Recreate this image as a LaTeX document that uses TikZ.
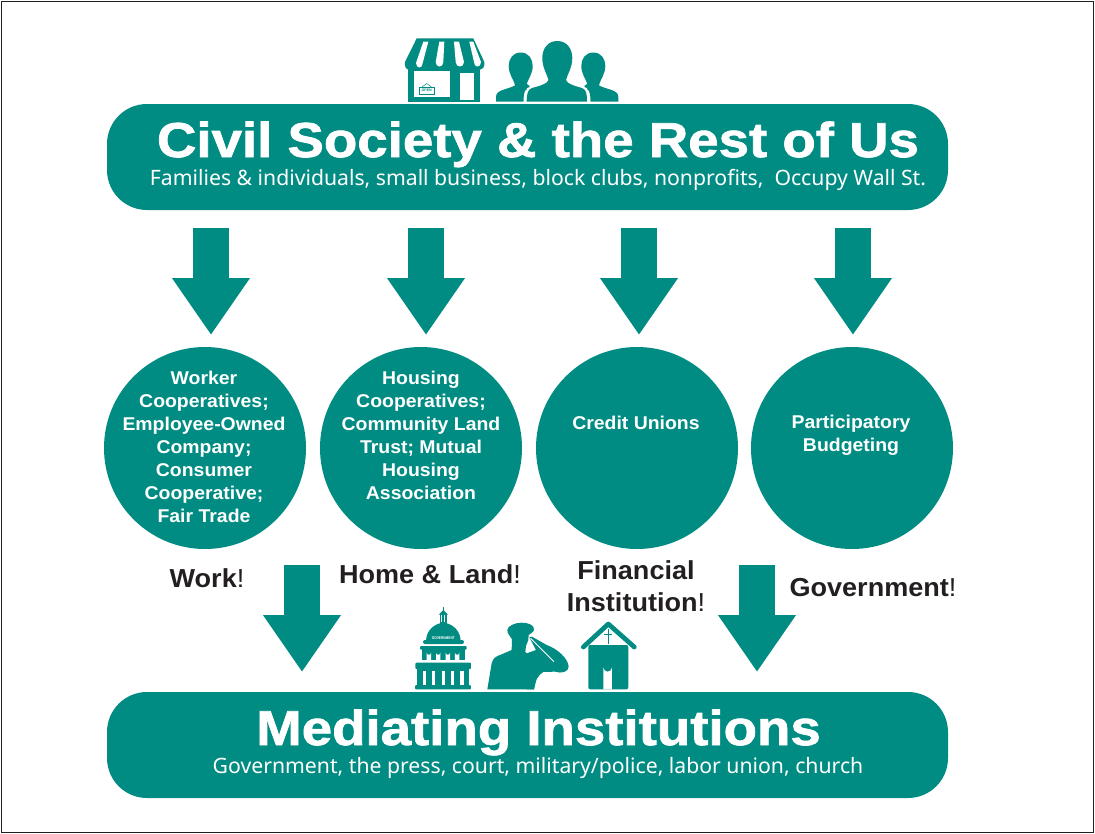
\documentclass[tikz,border=0pt]{standalone}
\usepackage{fontspec}
\usepackage{graphicx}
\setmainfont{Liberation Sans}
\newfontfamily\titlefont[FakeBold=1.5,FakeStretch=1.115]{Liberation Sans Bold}
\newfontfamily\bubfont[FakeStretch=1.05]{Liberation Sans Bold}
\newfontfamily\tagfont[FakeStretch=1.04]{Liberation Sans Bold}
\newfontfamily\tagreg[FakeStretch=1.04]{Liberation Sans}
\newfontfamily\subfont{Noto Sans}
\usetikzlibrary{arrows.meta}
\definecolor{teal1}{HTML}{008C82}
\definecolor{ink}{HTML}{231F20}
\tikzset{
  banner/.style={fill=teal1,rounded corners=40pt,minimum width=841pt,minimum height=106pt,inner sep=0pt},
  bubble/.style={circle,fill=teal1,minimum size=202pt,inner sep=0pt},
  bubbletext/.style={text=white,inner sep=0pt,font=\bubfont\fontsize{18.5}{23}\selectfont,align=center},
  blockarrow/.style={draw=teal1,line width=36pt,-{Triangle[width=74pt,length=57pt,fill=teal1]}},
  title/.style={text=white,inner sep=0pt,font=\titlefont\fontsize{49}{50}\selectfont},
  sub/.style={text=white,inner sep=0pt,font=\subfont\fontsize{21.2}{24}\selectfont},
  tag/.style={text=ink,inner sep=0pt,align=center,font=\tagfont\fontsize{26}{32}\selectfont},
  icon/.style={fill=teal1,draw=none},
  iconw/.style={fill=white,draw=none},
}
\begin{document}
\begin{tikzpicture}[x=1pt,y=-1pt]
\useasboundingbox (0,0) rectangle (1095,833);
\fill[white] (0,0) rectangle (1095,833);
\draw[ink,line width=1pt] (1.5,1.5) rectangle (1093.5,832);

% banners
\node[banner] (top) at (527.5,157) {};
\node[banner] (bot) at (527.5,745) {};
\node[title,anchor=base] (toptitle) at (538,157) {Civil Society \& the Rest of Us};
\node[sub,anchor=base] (topsub) at (538,185) {Families \& individuals, small business, block clubs, nonprofits,\ \ Occupy Wall St.};
\node[title,anchor=base] (bottitle) at (538.5,745) {Mediating Institutions};
\node[sub,anchor=base] (botsub) at (538,773) {Government, the press, court, military/police, labor union, church};

% circles
\node[bubble] (c1) at (205,448) {};
\node[bubble] (c2) at (421,448) {};
\node[bubble] (c3) at (637,448) {};
\node[bubble] (c4) at (852,448) {};
\node[bubbletext] (t1) at (204,447) {Worker\\Cooperatives;\\Employee-Owned\\Company;\\Consumer\\Cooperative;\\Fair Trade};
\node[bubbletext] (t2) at (421,435) {Housing\\Cooperatives;\\Community Land\\Trust; Mutual\\Housing\\Association};
\node[bubbletext] (t3) at (636,423) {Credit Unions};
\node[bubbletext] (t4) at (851,435) {Participatory\\Budgeting};

% down arrows
\coordinate (a1s) at (211,228); \coordinate (a1e) at (211,335);
\coordinate (a2s) at (426,228); \coordinate (a2e) at (426,335);
\coordinate (a3s) at (639,228); \coordinate (a3e) at (639,335);
\coordinate (a4s) at (853,228); \coordinate (a4e) at (853,335);
\coordinate (a5s) at (302,565); \coordinate (a5e) at (302,672);
\coordinate (a6s) at (757,565); \coordinate (a6e) at (757,672);
\foreach \k in {1,...,6} \draw[blockarrow] (a\k s) -- (a\k e);

% labels
\node[tag] (l1) at (207,578) {Work{\tagreg!}};
\node[tag] (l2) at (430,574) {Home \& Land{\tagreg!}};
\node[tag] (l3) at (636,586) {Financial\\Institution{\tagreg!}};
\node[tag] (l4) at (873,588) {Government{\tagreg!}};

% storefront
\fill[icon] (408.3,60) rectangle (480,101.7);
\fill[icon] (416.7,38.3) -- (473.3,38.3) -- (484.3,62)
  .. controls (485,66) and (483,69.5) .. (480,69.5) -- (408.3,69.5)
  .. controls (406,69.5) and (404.3,66) .. (405,62) -- cycle;
\fill[iconw] (414.3,70.7) rectangle (450,96.7);
\fill[iconw] (460,73.3) rectangle (474.3,100);
\foreach \ta/\tb/\ba/\bb/\by in {423.3/428.3/416/422.7/68,439.3/444.3/435.7/443.3/67,454/459/455.7/464/67,469.3/473.3/474/481/67}{
  \fill[iconw] (\ta,41.7) -- (\tb,41.7) -- (\bb,\by-5)
     .. controls (\bb,\by+1) and (\ba,\by+1) .. (\ba,\by-5) -- cycle;
}
\draw[teal1,line width=0.7pt,fill=white] (419,87) rectangle (434.5,94);
\draw[teal1,line width=0.5pt] (422,87) -- (426.7,83.5) -- (431.5,87);
\node[text=teal1,inner sep=0pt,font=\bfseries\fontsize{3.6}{4}\selectfont] (open) at (426.7,90.5) {OPEN};

% people
\foreach \cx in {520.7,593.3}{
  \fill[icon] (\cx,52.5) .. controls (\cx+8,52.5) and (\cx+12,59) .. (\cx+12,66)
    .. controls (\cx+12,74) and (\cx+7,80) .. (\cx+6,84) -- (\cx+6,90)
    -- (\cx-6,90) -- (\cx-6,84) .. controls (\cx-7,80) and (\cx-12,74) .. (\cx-12,66)
    .. controls (\cx-12,59) and (\cx-8,52.5) .. (\cx,52.5) -- cycle;
}
\fill[icon] (496,101.7) -- (496,97) .. controls (496,90) and (505,90) .. (514,86) -- (527,84)
  .. controls (530,86) and (531,87) .. (527,88) .. controls (524,91) and (523.5,96) .. (523.5,101.7) -- cycle;
\fill[icon] (618.3,101.7) -- (618.3,97) .. controls (618.3,90) and (609,90) .. (600,86) -- (587,84)
  .. controls (584,86) and (583,87) .. (587,88) .. controls (590,91) and (590.5,96) .. (590.5,101.7) -- cycle;
\fill[icon] (557.3,41) .. controls (567,41) and (572.3,49) .. (572.3,58)
  .. controls (572.3,68) and (567,75) .. (566,80) .. controls (567,84) and (575,86) .. (582,88)
  .. controls (586,89.5) and (587,93) .. (587,101.7) -- (526.7,101.7)
  .. controls (526.7,93) and (528,89.5) .. (532,88)
  .. controls (539,86) and (547.5,84) .. (548.5,80) .. controls (547.5,75) and (542.3,68) .. (542.3,58)
  .. controls (542.3,49) and (547.5,41) .. (557.3,41) -- cycle;

% capitol, soldier and church, in a local grid of third-pixels
\begin{scope}[shift={(400pt,-600pt)},x=0.3333pt,y=-0.3333pt]
  % capitol
  \fill[icon,rounded corners=1pt] (45,255) rectangle (213,268);
  \fill[icon,rounded corners=1pt] (46,188) rectangle (213,207);
  \fill[icon] (52,205) rectangle (207,256);
  \foreach \x in {68,96,125,153,181}{\fill[iconw] (\x,212) rectangle (\x+10,254);}
  \fill[icon,rounded corners=1pt] (60,138) rectangle (200,149);
  \fill[icon] (66,147) rectangle (194,180);
  \foreach \x in {80,108,137,165}{\fill[iconw] (\x,180) -- (\x,158) arc[start angle=180,end angle=0,radius=6.5] -- (\x+13,180) -- cycle;}
  \fill[icon] (78,124) .. controls (78,90) and (105,70) .. (130,68)
    .. controls (155,70) and (182,90) .. (182,124) -- cycle;
  \fill[icon,rounded corners=2pt] (69,120) rectangle (192,132);
  \fill[icon] (120,42) rectangle (140,70);
  \fill[icon] (116,44) -- (130,30) -- (144,44) -- cycle;
  \fill[icon] (128.5,20) rectangle (131.5,32);
  \fill[iconw] (124,46) rectangle (127,66);
  \fill[iconw] (133,46) rectangle (136,66);
  \node[text=white,inner sep=0pt,font=\bfseries\fontsize{4}{5}\selectfont] (gov) at (130,113) {\scalebox{0.8}[1]{GOVERNMENT}};
  % soldier
  \fill[icon] (262,268) -- (275,190) .. controls (278,175) and (290,168) .. (300,165)
    -- (335,150) -- (336,118) .. controls (330,108) and (322,100) .. (322,90)
    .. controls (322,78) and (345,68) .. (365,68)
    .. controls (385,68) and (402,75) .. (402,88)
    .. controls (402,95) and (392,102) .. (386,105)
    -- (385,120) -- (378,138) -- (376,156) -- (400,178)
    -- (410,235) -- (402,268) -- cycle;
  \fill[icon] (388,112) -- (396,110) -- (440,135)
    .. controls (470,145) and (505,175) .. (506,200)
    .. controls (506,215) and (485,222) .. (465,215)
    -- (430,216) .. controls (415,225) and (405,240) .. (402,268)
    -- (380,268) -- (380,160) -- (408,150) -- cycle;
  \draw[white,line width=0.9pt] (392,115) -- (462,185);
  % church
  \draw[teal1,line width=4.7pt,line cap=round,line join=round] (550,141) -- (625,72) -- (703,141);
  \fill[icon,rounded corners=2pt] (565,135) rectangle (685,268);
  \fill[iconw] (610,268) -- (610,202) arc[start angle=180,end angle=0,radius=13] -- (636,268) -- cycle;
  \draw[teal1,line width=1.3pt] (625,88) -- (625,132);
  \draw[teal1,line width=1pt] (613,103) -- (637,103);
\end{scope}
\end{tikzpicture}
\end{document}
